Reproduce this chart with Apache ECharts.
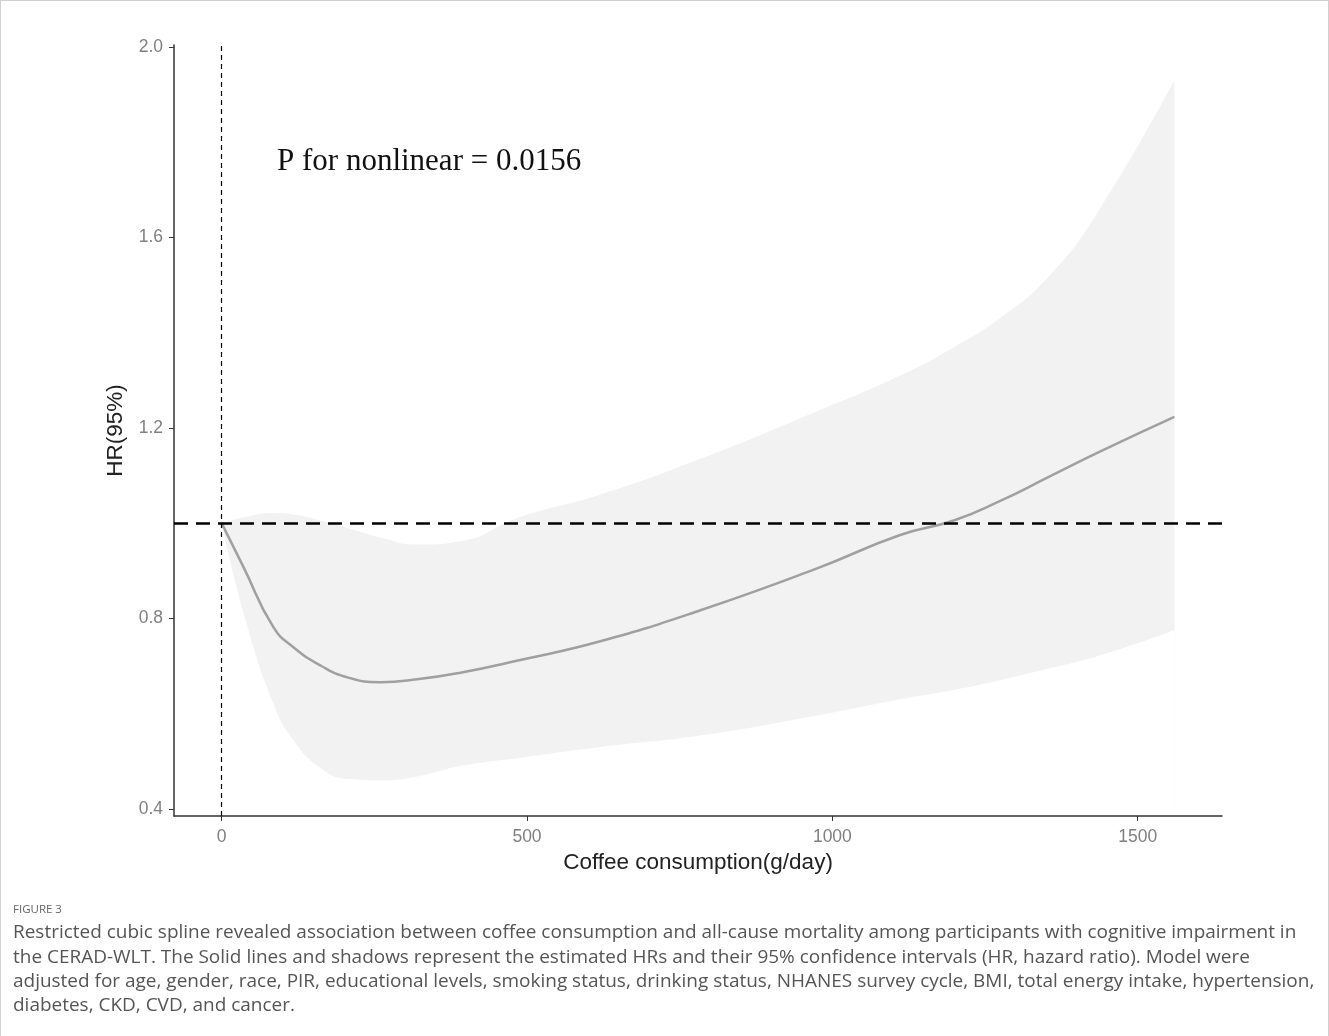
<!DOCTYPE html>
<html>
<head>
<meta charset="utf-8">
<script src="https://cdn.jsdelivr.net/npm/echarts@6/dist/echarts.min.js"></script>
<style>
  html, body { margin: 0; padding: 0; background: #fff; }
  #main { width: 1327px; height: 1035px; border: 1px solid #d0d0d0; border-bottom: none; }
</style>
</head>
<body>
<div id="main"></div>
<script>
// coffee consumption (g/day) sample points
const xs = [0, 36, 85, 118, 162, 206, 260, 320, 391, 487, 620, 784, 975, 1111, 1200, 1274, 1356, 1438, 1560];
// estimated HR
const hr = [1.0, 0.907, 0.781, 0.739, 0.701, 0.676, 0.666, 0.672, 0.686, 0.712, 0.752, 0.817, 0.905, 0.975, 1.006, 1.046, 1.098, 1.15, 1.223];
// 95% CI
const lower = [1.0, 0.811, 0.62, 0.543, 0.486, 0.463, 0.46, 0.468, 0.49, 0.507, 0.53, 0.554, 0.596, 0.63, 0.65, 0.67, 0.695, 0.722, 0.775];
const upper = [1.0, 1.012, 1.021, 1.018, 1.005, 0.99, 0.97, 0.955, 0.962, 1.012, 1.06, 1.135, 1.235, 1.31, 1.37, 1.43, 1.52, 1.66, 1.93];
const xTicks = [0, 500, 1000, 1500];
const yTicks = [0.4, 0.8, 1.2, 1.6, 2.0];

const captionLines = [
  'Restricted cubic spline revealed association between coffee consumption and all-cause mortality among participants with cognitive impairment in',
  'the CERAD-WLT. The Solid lines and shadows represent the estimated HRs and their 95% confidence intervals (HR, hazard ratio). Model were',
  'adjusted for age, gender, race, PIR, educational levels, smoking status, drinking status, NHANES survey cycle, BMI, total energy intake, hypertension,',
  'diabetes, CKD, CVD, and cancer.'
];

// fit caption font so that the longest line spans like the figure
const capFamily = '"Open Sans", sans-serif';
const ctx = document.createElement('canvas').getContext('2d');
ctx.font = '16px ' + capFamily;
const capSize = 16 * 1302 / ctx.measureText(captionLines[2]).width;

const chart = echarts.init(document.getElementById('main'));

let lowData = [];
let upData = [];
let hrData = [];
for (let i = 0; i < xs.length; i++) {
  lowData.push([xs[i], lower[i]]);
  upData.push([xs[i], upper[i]]);
  hrData.push([xs[i], hr[i]]);
}

let captionEls = [{
  type: 'text', x: 12, y: 909, z: 100,
  style: { text: 'FIGURE 3', font: '11.5px "Open Sans", sans-serif', fill: '#666', verticalAlign: 'middle' }
}];
for (let i = 0; i < captionLines.length; i++) {
  captionEls.push({
    type: 'text', x: 12, y: 932 + i * 24.3, z: 100,
    style: { text: captionLines[i], font: capSize.toFixed(2) + 'px ' + capFamily, fill: '#555', verticalAlign: 'middle' }
  });
}

const axisFont = { color: '#808080', fontSize: 17.5, fontFamily: '"Liberation Sans", Arial, sans-serif' };
const nameFont = { color: '#222', fontSize: 22.5, fontFamily: '"Liberation Sans", Arial, sans-serif' };

chart.setOption({
  animation: false,
  backgroundColor: '#fff',
  grid: { left: 173, right: 106, top: 44, bottom: 220, outerBoundsMode: 'none' },
  xAxis: {
    type: 'value', min: -78, max: 1638,
    name: 'Coffee consumption(g/day)', nameLocation: 'middle', nameGap: 35,
    nameTextStyle: nameFont,
    axisLine: { onZero: false, lineStyle: { color: '#333', width: 1.5 } },
    axisTick: { length: 5, lineStyle: { color: '#333' }, customValues: xTicks },
    axisLabel: Object.assign({ margin: 12, customValues: xTicks, formatter: v => String(v) }, axisFont),
    splitLine: { show: false }
  },
  yAxis: {
    type: 'value', min: 0.385, max: 2.004,
    name: 'HR(95%)', nameLocation: 'middle', nameGap: 38, nameRotate: 90,
    nameTextStyle: nameFont,
    axisLine: { show: true, onZero: false, lineStyle: { color: '#333', width: 1.5 } },
    axisTick: { show: true, length: 5, lineStyle: { color: '#333' }, customValues: yTicks },
    axisLabel: Object.assign({ margin: 11, customValues: yTicks, formatter: v => v.toFixed(1) }, axisFont),
    splitLine: { show: false }
  },
  series: [
    {
      // upper CI filled down to the axis
      type: 'line', data: upData, smooth: true, symbol: 'none', z: -3,
      lineStyle: { width: 0, opacity: 0 },
      areaStyle: { color: '#f2f2f2', opacity: 1, origin: 'start' }, silent: true
    },
    {
      // lower CI, white below it
      type: 'line', data: lowData, smooth: true, symbol: 'none', z: -2,
      lineStyle: { width: 0, opacity: 0 },
      areaStyle: { color: '#ffffff', opacity: 1, origin: 'start' }, silent: true
    },
    {
      type: 'line', data: hrData, smooth: true, symbol: 'none',
      lineStyle: { color: '#a0a0a0', width: 2.5 },
      markLine: {
        silent: true, symbol: 'none', label: { show: false },
        data: [
          { yAxis: 1, lineStyle: { color: '#000', width: 2.5, type: [14, 8] } },
          { xAxis: 0, lineStyle: { color: '#000', width: 1.2, type: [5, 4] } }
        ]
      }
    }
  ],
  graphic: [
    {
      type: 'text', x: 276, y: 161, z: 100,
      style: { text: 'P for nonlinear = 0.0156', font: '31px "Liberation Serif", "DejaVu Serif", serif', fill: '#111', verticalAlign: 'middle' }
    }
  ].concat(captionEls)
});
</script>
</body>
</html>
